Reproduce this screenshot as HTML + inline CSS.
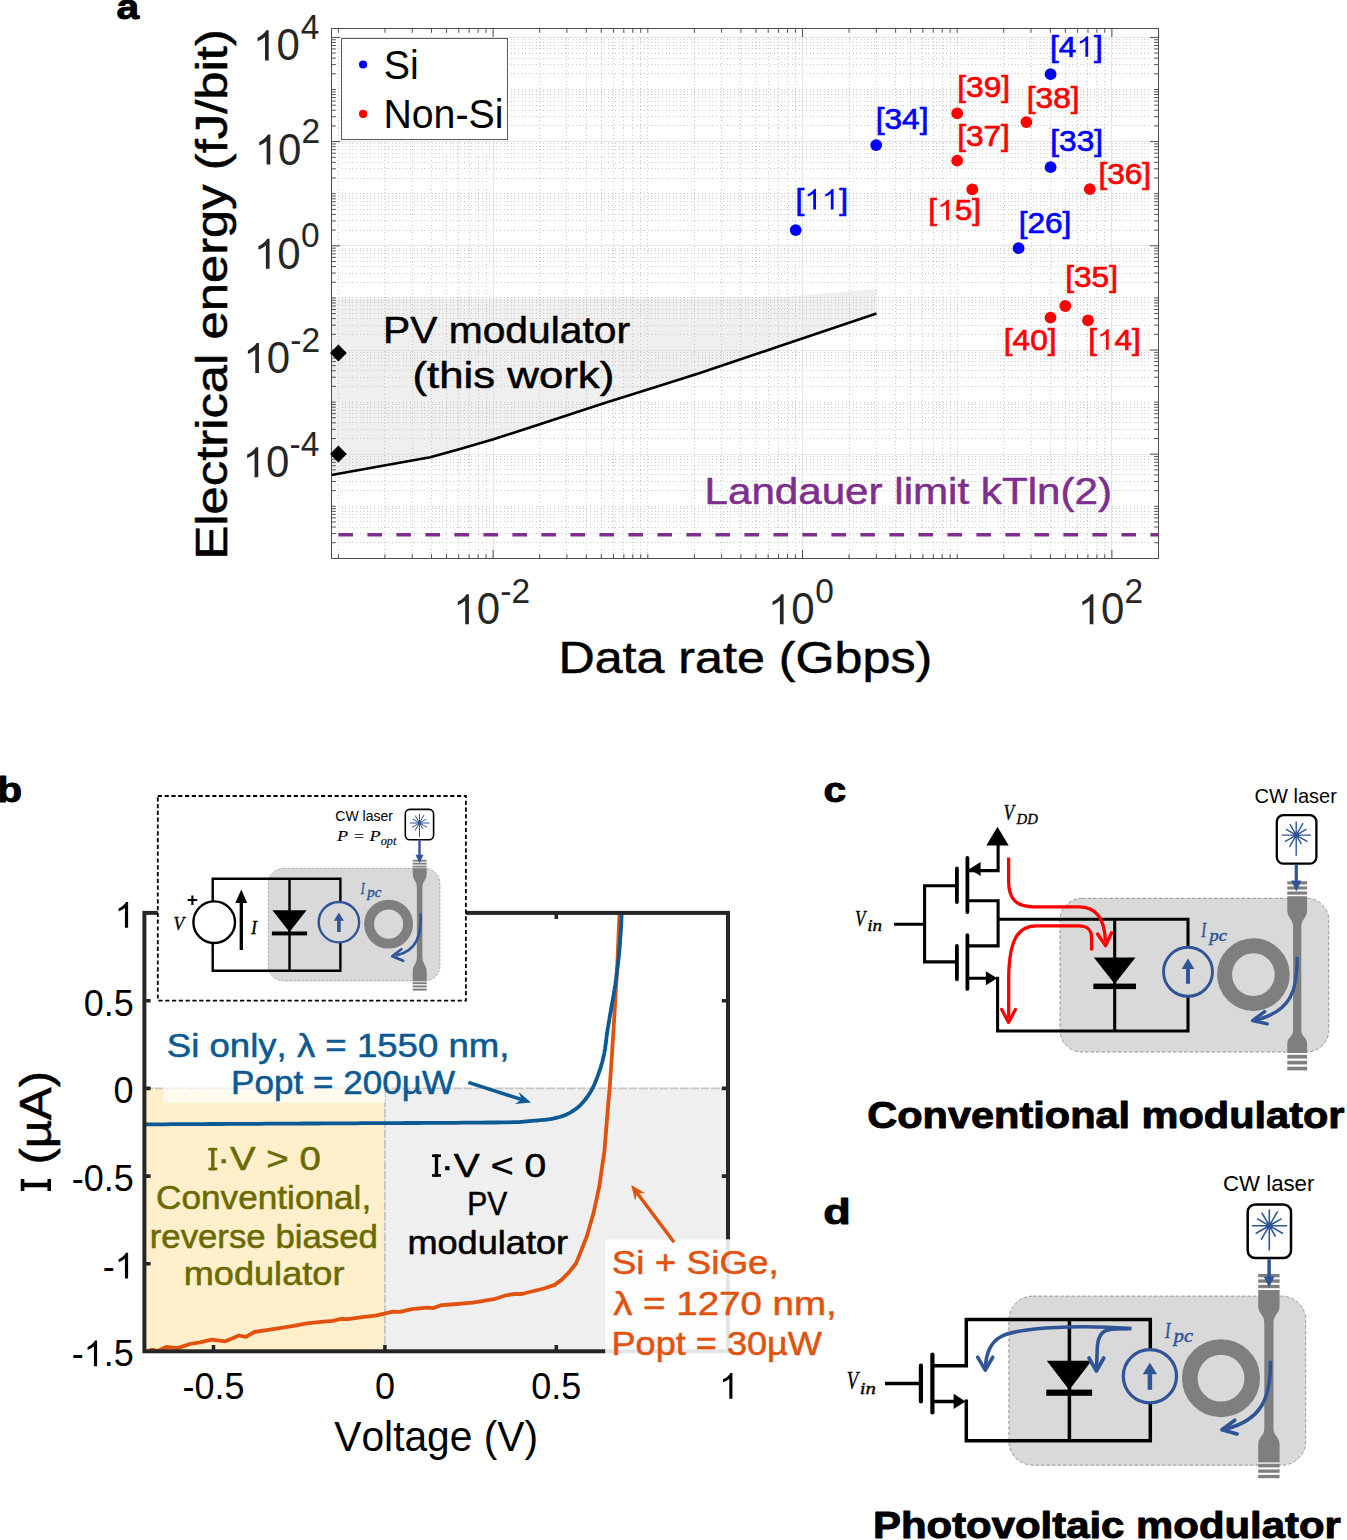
<!DOCTYPE html>
<html><head><meta charset="utf-8"><title>Figure</title>
<style>
html,body{margin:0;padding:0;background:#fff;}
body{width:1347px;height:1540px;overflow:hidden;font-family:"Liberation Sans",sans-serif;}
svg{display:block;}
svg text{font-kerning:none;white-space:pre;}
</style></head><body>
<svg width="1347" height="1540" viewBox="0 0 1347 1540">
<rect x="0" y="0" width="1347" height="1540" fill="#ffffff"/>
<polygon points="331.5,298.0 778.0,297.3 876.5,289.0 876.5,313.6 780.0,346.0 700.0,373.0 659.7,385.8 604.7,403.1 549.8,420.9 493.5,439.3 460.0,449.0 430.3,457.2 380.0,466.3 331.5,475.0" fill="#efefef"/>
<g shape-rendering="crispEdges" opacity="0.9"><line x1="338.40" y1="37.50" x2="338.40" y2="558.50" stroke="#c4c4c4" stroke-width="1" stroke-dasharray="1 2.6"/><line x1="384.97" y1="37.50" x2="384.97" y2="558.50" stroke="#c4c4c4" stroke-width="1" stroke-dasharray="1 2.6"/><line x1="412.21" y1="37.50" x2="412.21" y2="558.50" stroke="#c4c4c4" stroke-width="1" stroke-dasharray="1 2.6"/><line x1="431.54" y1="37.50" x2="431.54" y2="558.50" stroke="#c4c4c4" stroke-width="1" stroke-dasharray="1 2.6"/><line x1="446.53" y1="37.50" x2="446.53" y2="558.50" stroke="#c4c4c4" stroke-width="1" stroke-dasharray="1 2.6"/><line x1="458.78" y1="37.50" x2="458.78" y2="558.50" stroke="#c4c4c4" stroke-width="1" stroke-dasharray="1 2.6"/><line x1="469.14" y1="37.50" x2="469.14" y2="558.50" stroke="#c4c4c4" stroke-width="1" stroke-dasharray="1 2.6"/><line x1="478.11" y1="37.50" x2="478.11" y2="558.50" stroke="#c4c4c4" stroke-width="1" stroke-dasharray="1 2.6"/><line x1="486.02" y1="37.50" x2="486.02" y2="558.50" stroke="#c4c4c4" stroke-width="1" stroke-dasharray="1 2.6"/><line x1="493.10" y1="28.50" x2="493.10" y2="558.50" stroke="#e2e2e2" stroke-width="1"/><line x1="539.67" y1="37.50" x2="539.67" y2="558.50" stroke="#c4c4c4" stroke-width="1" stroke-dasharray="1 2.6"/><line x1="566.91" y1="37.50" x2="566.91" y2="558.50" stroke="#c4c4c4" stroke-width="1" stroke-dasharray="1 2.6"/><line x1="586.24" y1="37.50" x2="586.24" y2="558.50" stroke="#c4c4c4" stroke-width="1" stroke-dasharray="1 2.6"/><line x1="601.23" y1="37.50" x2="601.23" y2="558.50" stroke="#c4c4c4" stroke-width="1" stroke-dasharray="1 2.6"/><line x1="613.48" y1="37.50" x2="613.48" y2="558.50" stroke="#c4c4c4" stroke-width="1" stroke-dasharray="1 2.6"/><line x1="623.84" y1="37.50" x2="623.84" y2="558.50" stroke="#c4c4c4" stroke-width="1" stroke-dasharray="1 2.6"/><line x1="632.81" y1="37.50" x2="632.81" y2="558.50" stroke="#c4c4c4" stroke-width="1" stroke-dasharray="1 2.6"/><line x1="640.72" y1="37.50" x2="640.72" y2="558.50" stroke="#c4c4c4" stroke-width="1" stroke-dasharray="1 2.6"/><line x1="647.80" y1="37.50" x2="647.80" y2="558.50" stroke="#c4c4c4" stroke-width="1" stroke-dasharray="1 2.6"/><line x1="694.37" y1="37.50" x2="694.37" y2="558.50" stroke="#c4c4c4" stroke-width="1" stroke-dasharray="1 2.6"/><line x1="721.61" y1="37.50" x2="721.61" y2="558.50" stroke="#c4c4c4" stroke-width="1" stroke-dasharray="1 2.6"/><line x1="740.94" y1="37.50" x2="740.94" y2="558.50" stroke="#c4c4c4" stroke-width="1" stroke-dasharray="1 2.6"/><line x1="755.93" y1="37.50" x2="755.93" y2="558.50" stroke="#c4c4c4" stroke-width="1" stroke-dasharray="1 2.6"/><line x1="768.18" y1="37.50" x2="768.18" y2="558.50" stroke="#c4c4c4" stroke-width="1" stroke-dasharray="1 2.6"/><line x1="778.54" y1="37.50" x2="778.54" y2="558.50" stroke="#c4c4c4" stroke-width="1" stroke-dasharray="1 2.6"/><line x1="787.51" y1="37.50" x2="787.51" y2="558.50" stroke="#c4c4c4" stroke-width="1" stroke-dasharray="1 2.6"/><line x1="795.42" y1="37.50" x2="795.42" y2="558.50" stroke="#c4c4c4" stroke-width="1" stroke-dasharray="1 2.6"/><line x1="802.50" y1="28.50" x2="802.50" y2="558.50" stroke="#e2e2e2" stroke-width="1"/><line x1="849.07" y1="37.50" x2="849.07" y2="558.50" stroke="#c4c4c4" stroke-width="1" stroke-dasharray="1 2.6"/><line x1="876.31" y1="37.50" x2="876.31" y2="558.50" stroke="#c4c4c4" stroke-width="1" stroke-dasharray="1 2.6"/><line x1="895.64" y1="37.50" x2="895.64" y2="558.50" stroke="#c4c4c4" stroke-width="1" stroke-dasharray="1 2.6"/><line x1="910.63" y1="37.50" x2="910.63" y2="558.50" stroke="#c4c4c4" stroke-width="1" stroke-dasharray="1 2.6"/><line x1="922.88" y1="37.50" x2="922.88" y2="558.50" stroke="#c4c4c4" stroke-width="1" stroke-dasharray="1 2.6"/><line x1="933.24" y1="37.50" x2="933.24" y2="558.50" stroke="#c4c4c4" stroke-width="1" stroke-dasharray="1 2.6"/><line x1="942.21" y1="37.50" x2="942.21" y2="558.50" stroke="#c4c4c4" stroke-width="1" stroke-dasharray="1 2.6"/><line x1="950.12" y1="37.50" x2="950.12" y2="558.50" stroke="#c4c4c4" stroke-width="1" stroke-dasharray="1 2.6"/><line x1="957.20" y1="37.50" x2="957.20" y2="558.50" stroke="#c4c4c4" stroke-width="1" stroke-dasharray="1 2.6"/><line x1="1003.77" y1="37.50" x2="1003.77" y2="558.50" stroke="#c4c4c4" stroke-width="1" stroke-dasharray="1 2.6"/><line x1="1031.01" y1="37.50" x2="1031.01" y2="558.50" stroke="#c4c4c4" stroke-width="1" stroke-dasharray="1 2.6"/><line x1="1050.34" y1="37.50" x2="1050.34" y2="558.50" stroke="#c4c4c4" stroke-width="1" stroke-dasharray="1 2.6"/><line x1="1065.33" y1="37.50" x2="1065.33" y2="558.50" stroke="#c4c4c4" stroke-width="1" stroke-dasharray="1 2.6"/><line x1="1077.58" y1="37.50" x2="1077.58" y2="558.50" stroke="#c4c4c4" stroke-width="1" stroke-dasharray="1 2.6"/><line x1="1087.94" y1="37.50" x2="1087.94" y2="558.50" stroke="#c4c4c4" stroke-width="1" stroke-dasharray="1 2.6"/><line x1="1096.91" y1="37.50" x2="1096.91" y2="558.50" stroke="#c4c4c4" stroke-width="1" stroke-dasharray="1 2.6"/><line x1="1104.82" y1="37.50" x2="1104.82" y2="558.50" stroke="#c4c4c4" stroke-width="1" stroke-dasharray="1 2.6"/><line x1="1111.90" y1="28.50" x2="1111.90" y2="558.50" stroke="#e2e2e2" stroke-width="1"/><line x1="341.50" y1="542.72" x2="1148.50" y2="542.72" stroke="#c4c4c4" stroke-width="1" stroke-dasharray="1 2.6"/><line x1="341.50" y1="533.54" x2="1148.50" y2="533.54" stroke="#c4c4c4" stroke-width="1" stroke-dasharray="1 2.6"/><line x1="341.50" y1="527.03" x2="1148.50" y2="527.03" stroke="#c4c4c4" stroke-width="1" stroke-dasharray="1 2.6"/><line x1="341.50" y1="521.98" x2="1148.50" y2="521.98" stroke="#c4c4c4" stroke-width="1" stroke-dasharray="1 2.6"/><line x1="341.50" y1="517.86" x2="1148.50" y2="517.86" stroke="#c4c4c4" stroke-width="1" stroke-dasharray="1 2.6"/><line x1="341.50" y1="514.37" x2="1148.50" y2="514.37" stroke="#c4c4c4" stroke-width="1" stroke-dasharray="1 2.6"/><line x1="341.50" y1="511.35" x2="1148.50" y2="511.35" stroke="#c4c4c4" stroke-width="1" stroke-dasharray="1 2.6"/><line x1="341.50" y1="508.68" x2="1148.50" y2="508.68" stroke="#c4c4c4" stroke-width="1" stroke-dasharray="1 2.6"/><line x1="341.50" y1="506.30" x2="1148.50" y2="506.30" stroke="#c4c4c4" stroke-width="1" stroke-dasharray="1 2.6"/><line x1="341.50" y1="490.62" x2="1148.50" y2="490.62" stroke="#c4c4c4" stroke-width="1" stroke-dasharray="1 2.6"/><line x1="341.50" y1="481.44" x2="1148.50" y2="481.44" stroke="#c4c4c4" stroke-width="1" stroke-dasharray="1 2.6"/><line x1="341.50" y1="474.93" x2="1148.50" y2="474.93" stroke="#c4c4c4" stroke-width="1" stroke-dasharray="1 2.6"/><line x1="341.50" y1="469.88" x2="1148.50" y2="469.88" stroke="#c4c4c4" stroke-width="1" stroke-dasharray="1 2.6"/><line x1="341.50" y1="465.76" x2="1148.50" y2="465.76" stroke="#c4c4c4" stroke-width="1" stroke-dasharray="1 2.6"/><line x1="341.50" y1="462.27" x2="1148.50" y2="462.27" stroke="#c4c4c4" stroke-width="1" stroke-dasharray="1 2.6"/><line x1="341.50" y1="459.25" x2="1148.50" y2="459.25" stroke="#c4c4c4" stroke-width="1" stroke-dasharray="1 2.6"/><line x1="341.50" y1="456.58" x2="1148.50" y2="456.58" stroke="#c4c4c4" stroke-width="1" stroke-dasharray="1 2.6"/><line x1="331.50" y1="454.20" x2="1158.50" y2="454.20" stroke="#e2e2e2" stroke-width="1"/><line x1="341.50" y1="438.52" x2="1148.50" y2="438.52" stroke="#c4c4c4" stroke-width="1" stroke-dasharray="1 2.6"/><line x1="341.50" y1="429.34" x2="1148.50" y2="429.34" stroke="#c4c4c4" stroke-width="1" stroke-dasharray="1 2.6"/><line x1="341.50" y1="422.83" x2="1148.50" y2="422.83" stroke="#c4c4c4" stroke-width="1" stroke-dasharray="1 2.6"/><line x1="341.50" y1="417.78" x2="1148.50" y2="417.78" stroke="#c4c4c4" stroke-width="1" stroke-dasharray="1 2.6"/><line x1="341.50" y1="413.66" x2="1148.50" y2="413.66" stroke="#c4c4c4" stroke-width="1" stroke-dasharray="1 2.6"/><line x1="341.50" y1="410.17" x2="1148.50" y2="410.17" stroke="#c4c4c4" stroke-width="1" stroke-dasharray="1 2.6"/><line x1="341.50" y1="407.15" x2="1148.50" y2="407.15" stroke="#c4c4c4" stroke-width="1" stroke-dasharray="1 2.6"/><line x1="341.50" y1="404.48" x2="1148.50" y2="404.48" stroke="#c4c4c4" stroke-width="1" stroke-dasharray="1 2.6"/><line x1="341.50" y1="402.10" x2="1148.50" y2="402.10" stroke="#c4c4c4" stroke-width="1" stroke-dasharray="1 2.6"/><line x1="341.50" y1="386.42" x2="1148.50" y2="386.42" stroke="#c4c4c4" stroke-width="1" stroke-dasharray="1 2.6"/><line x1="341.50" y1="377.24" x2="1148.50" y2="377.24" stroke="#c4c4c4" stroke-width="1" stroke-dasharray="1 2.6"/><line x1="341.50" y1="370.73" x2="1148.50" y2="370.73" stroke="#c4c4c4" stroke-width="1" stroke-dasharray="1 2.6"/><line x1="341.50" y1="365.68" x2="1148.50" y2="365.68" stroke="#c4c4c4" stroke-width="1" stroke-dasharray="1 2.6"/><line x1="341.50" y1="361.56" x2="1148.50" y2="361.56" stroke="#c4c4c4" stroke-width="1" stroke-dasharray="1 2.6"/><line x1="341.50" y1="358.07" x2="1148.50" y2="358.07" stroke="#c4c4c4" stroke-width="1" stroke-dasharray="1 2.6"/><line x1="341.50" y1="355.05" x2="1148.50" y2="355.05" stroke="#c4c4c4" stroke-width="1" stroke-dasharray="1 2.6"/><line x1="341.50" y1="352.38" x2="1148.50" y2="352.38" stroke="#c4c4c4" stroke-width="1" stroke-dasharray="1 2.6"/><line x1="331.50" y1="350.00" x2="1158.50" y2="350.00" stroke="#e2e2e2" stroke-width="1"/><line x1="341.50" y1="334.32" x2="1148.50" y2="334.32" stroke="#c4c4c4" stroke-width="1" stroke-dasharray="1 2.6"/><line x1="341.50" y1="325.14" x2="1148.50" y2="325.14" stroke="#c4c4c4" stroke-width="1" stroke-dasharray="1 2.6"/><line x1="341.50" y1="318.63" x2="1148.50" y2="318.63" stroke="#c4c4c4" stroke-width="1" stroke-dasharray="1 2.6"/><line x1="341.50" y1="313.58" x2="1148.50" y2="313.58" stroke="#c4c4c4" stroke-width="1" stroke-dasharray="1 2.6"/><line x1="341.50" y1="309.46" x2="1148.50" y2="309.46" stroke="#c4c4c4" stroke-width="1" stroke-dasharray="1 2.6"/><line x1="341.50" y1="305.97" x2="1148.50" y2="305.97" stroke="#c4c4c4" stroke-width="1" stroke-dasharray="1 2.6"/><line x1="341.50" y1="302.95" x2="1148.50" y2="302.95" stroke="#c4c4c4" stroke-width="1" stroke-dasharray="1 2.6"/><line x1="341.50" y1="300.28" x2="1148.50" y2="300.28" stroke="#c4c4c4" stroke-width="1" stroke-dasharray="1 2.6"/><line x1="341.50" y1="297.90" x2="1148.50" y2="297.90" stroke="#c4c4c4" stroke-width="1" stroke-dasharray="1 2.6"/><line x1="341.50" y1="282.22" x2="1148.50" y2="282.22" stroke="#c4c4c4" stroke-width="1" stroke-dasharray="1 2.6"/><line x1="341.50" y1="273.04" x2="1148.50" y2="273.04" stroke="#c4c4c4" stroke-width="1" stroke-dasharray="1 2.6"/><line x1="341.50" y1="266.53" x2="1148.50" y2="266.53" stroke="#c4c4c4" stroke-width="1" stroke-dasharray="1 2.6"/><line x1="341.50" y1="261.48" x2="1148.50" y2="261.48" stroke="#c4c4c4" stroke-width="1" stroke-dasharray="1 2.6"/><line x1="341.50" y1="257.36" x2="1148.50" y2="257.36" stroke="#c4c4c4" stroke-width="1" stroke-dasharray="1 2.6"/><line x1="341.50" y1="253.87" x2="1148.50" y2="253.87" stroke="#c4c4c4" stroke-width="1" stroke-dasharray="1 2.6"/><line x1="341.50" y1="250.85" x2="1148.50" y2="250.85" stroke="#c4c4c4" stroke-width="1" stroke-dasharray="1 2.6"/><line x1="341.50" y1="248.18" x2="1148.50" y2="248.18" stroke="#c4c4c4" stroke-width="1" stroke-dasharray="1 2.6"/><line x1="331.50" y1="245.80" x2="1158.50" y2="245.80" stroke="#e2e2e2" stroke-width="1"/><line x1="341.50" y1="230.12" x2="1148.50" y2="230.12" stroke="#c4c4c4" stroke-width="1" stroke-dasharray="1 2.6"/><line x1="341.50" y1="220.94" x2="1148.50" y2="220.94" stroke="#c4c4c4" stroke-width="1" stroke-dasharray="1 2.6"/><line x1="341.50" y1="214.43" x2="1148.50" y2="214.43" stroke="#c4c4c4" stroke-width="1" stroke-dasharray="1 2.6"/><line x1="341.50" y1="209.38" x2="1148.50" y2="209.38" stroke="#c4c4c4" stroke-width="1" stroke-dasharray="1 2.6"/><line x1="341.50" y1="205.26" x2="1148.50" y2="205.26" stroke="#c4c4c4" stroke-width="1" stroke-dasharray="1 2.6"/><line x1="341.50" y1="201.77" x2="1148.50" y2="201.77" stroke="#c4c4c4" stroke-width="1" stroke-dasharray="1 2.6"/><line x1="341.50" y1="198.75" x2="1148.50" y2="198.75" stroke="#c4c4c4" stroke-width="1" stroke-dasharray="1 2.6"/><line x1="341.50" y1="196.08" x2="1148.50" y2="196.08" stroke="#c4c4c4" stroke-width="1" stroke-dasharray="1 2.6"/><line x1="341.50" y1="193.70" x2="1148.50" y2="193.70" stroke="#c4c4c4" stroke-width="1" stroke-dasharray="1 2.6"/><line x1="341.50" y1="178.02" x2="1148.50" y2="178.02" stroke="#c4c4c4" stroke-width="1" stroke-dasharray="1 2.6"/><line x1="341.50" y1="168.84" x2="1148.50" y2="168.84" stroke="#c4c4c4" stroke-width="1" stroke-dasharray="1 2.6"/><line x1="341.50" y1="162.33" x2="1148.50" y2="162.33" stroke="#c4c4c4" stroke-width="1" stroke-dasharray="1 2.6"/><line x1="341.50" y1="157.28" x2="1148.50" y2="157.28" stroke="#c4c4c4" stroke-width="1" stroke-dasharray="1 2.6"/><line x1="341.50" y1="153.16" x2="1148.50" y2="153.16" stroke="#c4c4c4" stroke-width="1" stroke-dasharray="1 2.6"/><line x1="341.50" y1="149.67" x2="1148.50" y2="149.67" stroke="#c4c4c4" stroke-width="1" stroke-dasharray="1 2.6"/><line x1="341.50" y1="146.65" x2="1148.50" y2="146.65" stroke="#c4c4c4" stroke-width="1" stroke-dasharray="1 2.6"/><line x1="341.50" y1="143.98" x2="1148.50" y2="143.98" stroke="#c4c4c4" stroke-width="1" stroke-dasharray="1 2.6"/><line x1="331.50" y1="141.60" x2="1158.50" y2="141.60" stroke="#e2e2e2" stroke-width="1"/><line x1="341.50" y1="125.92" x2="1148.50" y2="125.92" stroke="#c4c4c4" stroke-width="1" stroke-dasharray="1 2.6"/><line x1="341.50" y1="116.74" x2="1148.50" y2="116.74" stroke="#c4c4c4" stroke-width="1" stroke-dasharray="1 2.6"/><line x1="341.50" y1="110.23" x2="1148.50" y2="110.23" stroke="#c4c4c4" stroke-width="1" stroke-dasharray="1 2.6"/><line x1="341.50" y1="105.18" x2="1148.50" y2="105.18" stroke="#c4c4c4" stroke-width="1" stroke-dasharray="1 2.6"/><line x1="341.50" y1="101.06" x2="1148.50" y2="101.06" stroke="#c4c4c4" stroke-width="1" stroke-dasharray="1 2.6"/><line x1="341.50" y1="97.57" x2="1148.50" y2="97.57" stroke="#c4c4c4" stroke-width="1" stroke-dasharray="1 2.6"/><line x1="341.50" y1="94.55" x2="1148.50" y2="94.55" stroke="#c4c4c4" stroke-width="1" stroke-dasharray="1 2.6"/><line x1="341.50" y1="91.88" x2="1148.50" y2="91.88" stroke="#c4c4c4" stroke-width="1" stroke-dasharray="1 2.6"/><line x1="341.50" y1="89.50" x2="1148.50" y2="89.50" stroke="#c4c4c4" stroke-width="1" stroke-dasharray="1 2.6"/><line x1="341.50" y1="73.82" x2="1148.50" y2="73.82" stroke="#c4c4c4" stroke-width="1" stroke-dasharray="1 2.6"/><line x1="341.50" y1="64.64" x2="1148.50" y2="64.64" stroke="#c4c4c4" stroke-width="1" stroke-dasharray="1 2.6"/><line x1="341.50" y1="58.13" x2="1148.50" y2="58.13" stroke="#c4c4c4" stroke-width="1" stroke-dasharray="1 2.6"/><line x1="341.50" y1="53.08" x2="1148.50" y2="53.08" stroke="#c4c4c4" stroke-width="1" stroke-dasharray="1 2.6"/><line x1="341.50" y1="48.96" x2="1148.50" y2="48.96" stroke="#c4c4c4" stroke-width="1" stroke-dasharray="1 2.6"/><line x1="341.50" y1="45.47" x2="1148.50" y2="45.47" stroke="#c4c4c4" stroke-width="1" stroke-dasharray="1 2.6"/><line x1="341.50" y1="42.45" x2="1148.50" y2="42.45" stroke="#c4c4c4" stroke-width="1" stroke-dasharray="1 2.6"/><line x1="341.50" y1="39.78" x2="1148.50" y2="39.78" stroke="#c4c4c4" stroke-width="1" stroke-dasharray="1 2.6"/><line x1="331.50" y1="37.40" x2="1158.50" y2="37.40" stroke="#e2e2e2" stroke-width="1"/></g>
<path d="M338.40 558.50v-4.3 M338.40 28.50v4.3 M384.97 558.50v-4.3 M384.97 28.50v4.3 M412.21 558.50v-4.3 M412.21 28.50v4.3 M431.54 558.50v-4.3 M431.54 28.50v4.3 M446.53 558.50v-4.3 M446.53 28.50v4.3 M458.78 558.50v-4.3 M458.78 28.50v4.3 M469.14 558.50v-4.3 M469.14 28.50v4.3 M478.11 558.50v-4.3 M478.11 28.50v4.3 M486.02 558.50v-4.3 M486.02 28.50v4.3 M493.10 558.50v-8.5 M493.10 28.50v8.5 M539.67 558.50v-4.3 M539.67 28.50v4.3 M566.91 558.50v-4.3 M566.91 28.50v4.3 M586.24 558.50v-4.3 M586.24 28.50v4.3 M601.23 558.50v-4.3 M601.23 28.50v4.3 M613.48 558.50v-4.3 M613.48 28.50v4.3 M623.84 558.50v-4.3 M623.84 28.50v4.3 M632.81 558.50v-4.3 M632.81 28.50v4.3 M640.72 558.50v-4.3 M640.72 28.50v4.3 M647.80 558.50v-4.3 M647.80 28.50v4.3 M694.37 558.50v-4.3 M694.37 28.50v4.3 M721.61 558.50v-4.3 M721.61 28.50v4.3 M740.94 558.50v-4.3 M740.94 28.50v4.3 M755.93 558.50v-4.3 M755.93 28.50v4.3 M768.18 558.50v-4.3 M768.18 28.50v4.3 M778.54 558.50v-4.3 M778.54 28.50v4.3 M787.51 558.50v-4.3 M787.51 28.50v4.3 M795.42 558.50v-4.3 M795.42 28.50v4.3 M802.50 558.50v-8.5 M802.50 28.50v8.5 M849.07 558.50v-4.3 M849.07 28.50v4.3 M876.31 558.50v-4.3 M876.31 28.50v4.3 M895.64 558.50v-4.3 M895.64 28.50v4.3 M910.63 558.50v-4.3 M910.63 28.50v4.3 M922.88 558.50v-4.3 M922.88 28.50v4.3 M933.24 558.50v-4.3 M933.24 28.50v4.3 M942.21 558.50v-4.3 M942.21 28.50v4.3 M950.12 558.50v-4.3 M950.12 28.50v4.3 M957.20 558.50v-4.3 M957.20 28.50v4.3 M1003.77 558.50v-4.3 M1003.77 28.50v4.3 M1031.01 558.50v-4.3 M1031.01 28.50v4.3 M1050.34 558.50v-4.3 M1050.34 28.50v4.3 M1065.33 558.50v-4.3 M1065.33 28.50v4.3 M1077.58 558.50v-4.3 M1077.58 28.50v4.3 M1087.94 558.50v-4.3 M1087.94 28.50v4.3 M1096.91 558.50v-4.3 M1096.91 28.50v4.3 M1104.82 558.50v-4.3 M1104.82 28.50v4.3 M1111.90 558.50v-8.5 M1111.90 28.50v8.5 M331.50 542.72h4.3 M1158.50 542.72h-4.3 M331.50 533.54h4.3 M1158.50 533.54h-4.3 M331.50 527.03h4.3 M1158.50 527.03h-4.3 M331.50 521.98h4.3 M1158.50 521.98h-4.3 M331.50 517.86h4.3 M1158.50 517.86h-4.3 M331.50 514.37h4.3 M1158.50 514.37h-4.3 M331.50 511.35h4.3 M1158.50 511.35h-4.3 M331.50 508.68h4.3 M1158.50 508.68h-4.3 M331.50 506.30h4.3 M1158.50 506.30h-4.3 M331.50 490.62h4.3 M1158.50 490.62h-4.3 M331.50 481.44h4.3 M1158.50 481.44h-4.3 M331.50 474.93h4.3 M1158.50 474.93h-4.3 M331.50 469.88h4.3 M1158.50 469.88h-4.3 M331.50 465.76h4.3 M1158.50 465.76h-4.3 M331.50 462.27h4.3 M1158.50 462.27h-4.3 M331.50 459.25h4.3 M1158.50 459.25h-4.3 M331.50 456.58h4.3 M1158.50 456.58h-4.3 M331.50 454.20h8.5 M1158.50 454.20h-8.5 M331.50 438.52h4.3 M1158.50 438.52h-4.3 M331.50 429.34h4.3 M1158.50 429.34h-4.3 M331.50 422.83h4.3 M1158.50 422.83h-4.3 M331.50 417.78h4.3 M1158.50 417.78h-4.3 M331.50 413.66h4.3 M1158.50 413.66h-4.3 M331.50 410.17h4.3 M1158.50 410.17h-4.3 M331.50 407.15h4.3 M1158.50 407.15h-4.3 M331.50 404.48h4.3 M1158.50 404.48h-4.3 M331.50 402.10h4.3 M1158.50 402.10h-4.3 M331.50 386.42h4.3 M1158.50 386.42h-4.3 M331.50 377.24h4.3 M1158.50 377.24h-4.3 M331.50 370.73h4.3 M1158.50 370.73h-4.3 M331.50 365.68h4.3 M1158.50 365.68h-4.3 M331.50 361.56h4.3 M1158.50 361.56h-4.3 M331.50 358.07h4.3 M1158.50 358.07h-4.3 M331.50 355.05h4.3 M1158.50 355.05h-4.3 M331.50 352.38h4.3 M1158.50 352.38h-4.3 M331.50 350.00h8.5 M1158.50 350.00h-8.5 M331.50 334.32h4.3 M1158.50 334.32h-4.3 M331.50 325.14h4.3 M1158.50 325.14h-4.3 M331.50 318.63h4.3 M1158.50 318.63h-4.3 M331.50 313.58h4.3 M1158.50 313.58h-4.3 M331.50 309.46h4.3 M1158.50 309.46h-4.3 M331.50 305.97h4.3 M1158.50 305.97h-4.3 M331.50 302.95h4.3 M1158.50 302.95h-4.3 M331.50 300.28h4.3 M1158.50 300.28h-4.3 M331.50 297.90h4.3 M1158.50 297.90h-4.3 M331.50 282.22h4.3 M1158.50 282.22h-4.3 M331.50 273.04h4.3 M1158.50 273.04h-4.3 M331.50 266.53h4.3 M1158.50 266.53h-4.3 M331.50 261.48h4.3 M1158.50 261.48h-4.3 M331.50 257.36h4.3 M1158.50 257.36h-4.3 M331.50 253.87h4.3 M1158.50 253.87h-4.3 M331.50 250.85h4.3 M1158.50 250.85h-4.3 M331.50 248.18h4.3 M1158.50 248.18h-4.3 M331.50 245.80h8.5 M1158.50 245.80h-8.5 M331.50 230.12h4.3 M1158.50 230.12h-4.3 M331.50 220.94h4.3 M1158.50 220.94h-4.3 M331.50 214.43h4.3 M1158.50 214.43h-4.3 M331.50 209.38h4.3 M1158.50 209.38h-4.3 M331.50 205.26h4.3 M1158.50 205.26h-4.3 M331.50 201.77h4.3 M1158.50 201.77h-4.3 M331.50 198.75h4.3 M1158.50 198.75h-4.3 M331.50 196.08h4.3 M1158.50 196.08h-4.3 M331.50 193.70h4.3 M1158.50 193.70h-4.3 M331.50 178.02h4.3 M1158.50 178.02h-4.3 M331.50 168.84h4.3 M1158.50 168.84h-4.3 M331.50 162.33h4.3 M1158.50 162.33h-4.3 M331.50 157.28h4.3 M1158.50 157.28h-4.3 M331.50 153.16h4.3 M1158.50 153.16h-4.3 M331.50 149.67h4.3 M1158.50 149.67h-4.3 M331.50 146.65h4.3 M1158.50 146.65h-4.3 M331.50 143.98h4.3 M1158.50 143.98h-4.3 M331.50 141.60h8.5 M1158.50 141.60h-8.5 M331.50 125.92h4.3 M1158.50 125.92h-4.3 M331.50 116.74h4.3 M1158.50 116.74h-4.3 M331.50 110.23h4.3 M1158.50 110.23h-4.3 M331.50 105.18h4.3 M1158.50 105.18h-4.3 M331.50 101.06h4.3 M1158.50 101.06h-4.3 M331.50 97.57h4.3 M1158.50 97.57h-4.3 M331.50 94.55h4.3 M1158.50 94.55h-4.3 M331.50 91.88h4.3 M1158.50 91.88h-4.3 M331.50 89.50h4.3 M1158.50 89.50h-4.3 M331.50 73.82h4.3 M1158.50 73.82h-4.3 M331.50 64.64h4.3 M1158.50 64.64h-4.3 M331.50 58.13h4.3 M1158.50 58.13h-4.3 M331.50 53.08h4.3 M1158.50 53.08h-4.3 M331.50 48.96h4.3 M1158.50 48.96h-4.3 M331.50 45.47h4.3 M1158.50 45.47h-4.3 M331.50 42.45h4.3 M1158.50 42.45h-4.3 M331.50 39.78h4.3 M1158.50 39.78h-4.3 M331.50 37.40h8.5 M1158.50 37.40h-8.5" fill="none" stroke="#4d4d4d" stroke-width="1.00" />
<rect x="331.50" y="28.50" width="827.00" height="530.00" fill="none" stroke="#4d4d4d" stroke-width="1.00" rx="0.00" />
<line x1="338.40" y1="534.70" x2="1158.50" y2="534.70" stroke="#7e2f8e" stroke-width="3.60" stroke-dasharray="14.6 14.4"/>
<text transform="translate(704.54,503.60) scale(1.1707,1.0500)" font-size="36.00" fill="#7e2f8e" style="font-family:'Liberation Sans',sans-serif" stroke="#7e2f8e" stroke-width="0.50" stroke-linejoin="round">Landauer limit kTln(2)</text>
<path d="M331.5 475.0 L380.0 466.3 L430.3 457.2 L460.0 449.0 L493.5 439.3 L549.8 420.9 L604.7 403.1 L659.7 385.8 L700.0 373.0 L780.0 346.0 L876.5 313.6" fill="none" stroke="#000" stroke-width="2.60" stroke-linejoin="round"/>
<polygon points="330.0,353.0 338.4,344.6 346.8,353.0 338.4,361.4" fill="#000"/>
<polygon points="330.0,454.0 338.4,445.6 346.8,454.0 338.4,462.4" fill="#000"/>
<text transform="translate(382.95,342.60) scale(1.1330,1.0500)" font-size="36.00" fill="#000" style="font-family:'Liberation Sans',sans-serif" stroke="#000" stroke-width="0.50" stroke-linejoin="round">PV modulator</text>
<text transform="translate(412.49,387.70) scale(1.2158,1.0500)" font-size="36.00" fill="#000" style="font-family:'Liberation Sans',sans-serif" stroke="#000" stroke-width="0.50" stroke-linejoin="round">(this work)</text>
<rect x="341.50" y="38.50" width="166.00" height="101.00" fill="#fff" stroke="#5a5a5a" stroke-width="1.00" rx="0.00" />
<circle cx="363.10" cy="64.50" r="4.10" fill="#0000ff" stroke="none" stroke-width="1.00"/>
<circle cx="363.10" cy="113.90" r="4.10" fill="#ff0000" stroke="none" stroke-width="1.00"/>
<text transform="translate(383.81,78.90) scale(1.0237,1.0400)" font-size="38.50" fill="#000" style="font-family:'Liberation Sans',sans-serif" >Si</text>
<text transform="translate(383.38,128.10) scale(1.0203,1.0400)" font-size="38.50" fill="#000" style="font-family:'Liberation Sans',sans-serif" >Non-Si</text>
<circle cx="1050.60" cy="74.20" r="5.90" fill="#0000ff" stroke="none" stroke-width="1.00"/>
<circle cx="957.20" cy="113.40" r="5.90" fill="#ff0000" stroke="none" stroke-width="1.00"/>
<circle cx="1026.40" cy="122.10" r="5.90" fill="#ff0000" stroke="none" stroke-width="1.00"/>
<circle cx="876.20" cy="145.10" r="5.90" fill="#0000ff" stroke="none" stroke-width="1.00"/>
<circle cx="957.20" cy="160.70" r="5.90" fill="#ff0000" stroke="none" stroke-width="1.00"/>
<circle cx="1050.60" cy="167.20" r="5.90" fill="#0000ff" stroke="none" stroke-width="1.00"/>
<circle cx="1089.80" cy="189.10" r="5.90" fill="#ff0000" stroke="none" stroke-width="1.00"/>
<circle cx="972.30" cy="189.40" r="5.90" fill="#ff0000" stroke="none" stroke-width="1.00"/>
<circle cx="795.70" cy="230.10" r="5.90" fill="#0000ff" stroke="none" stroke-width="1.00"/>
<circle cx="1018.60" cy="248.20" r="5.90" fill="#0000ff" stroke="none" stroke-width="1.00"/>
<circle cx="1065.30" cy="306.00" r="5.90" fill="#ff0000" stroke="none" stroke-width="1.00"/>
<circle cx="1050.50" cy="317.60" r="5.90" fill="#ff0000" stroke="none" stroke-width="1.00"/>
<circle cx="1088.00" cy="320.30" r="5.90" fill="#ff0000" stroke="none" stroke-width="1.00"/>
<g transform="translate(1050.05,56.80) scale(1.0533,0.9950)" fill="#0000ff" stroke="#0000ff" stroke-width="0.7">
<text x="0.00" y="0" font-size="30.00" style="font-family:'Liberation Sans',sans-serif">[4</text>
<path transform="translate(25.02,0) scale(0.01465,-0.01407)" d="M763 0H583V1140C505 1068 380 992 223 930V1102C395 1180 560 1310 646 1467H763Z"/>
<text x="41.70" y="0" font-size="30.00" style="font-family:'Liberation Sans',sans-serif">]</text>
</g>
<text transform="translate(957.35,97.30) scale(1.0533,0.9950)" font-size="30.00" fill="#ff0000" style="font-family:'Liberation Sans',sans-serif" stroke="#ff0000" stroke-width="0.7">[39]</text>
<text transform="translate(1026.85,107.50) scale(1.0533,0.9950)" font-size="30.00" fill="#ff0000" style="font-family:'Liberation Sans',sans-serif" stroke="#ff0000" stroke-width="0.7">[38]</text>
<text transform="translate(875.75,129.00) scale(1.0533,0.9950)" font-size="30.00" fill="#0000ff" style="font-family:'Liberation Sans',sans-serif" stroke="#0000ff" stroke-width="0.7">[34]</text>
<text transform="translate(957.15,146.10) scale(1.0533,0.9950)" font-size="30.00" fill="#ff0000" style="font-family:'Liberation Sans',sans-serif" stroke="#ff0000" stroke-width="0.7">[37]</text>
<text transform="translate(1050.35,150.80) scale(1.0533,0.9950)" font-size="30.00" fill="#0000ff" style="font-family:'Liberation Sans',sans-serif" stroke="#0000ff" stroke-width="0.7">[33]</text>
<text transform="translate(1098.45,183.60) scale(1.0533,0.9950)" font-size="30.00" fill="#ff0000" style="font-family:'Liberation Sans',sans-serif" stroke="#ff0000" stroke-width="0.7">[36]</text>
<g transform="translate(928.35,220.30) scale(1.0533,0.9950)" fill="#ff0000" stroke="#ff0000" stroke-width="0.7">
<text x="0.00" y="0" font-size="30.00" style="font-family:'Liberation Sans',sans-serif">[</text>
<path transform="translate(8.33,0) scale(0.01465,-0.01407)" d="M763 0H583V1140C505 1068 380 992 223 930V1102C395 1180 560 1310 646 1467H763Z"/>
<text x="25.02" y="0" font-size="30.00" style="font-family:'Liberation Sans',sans-serif">5]</text>
</g>
<g transform="translate(795.45,209.60) scale(1.0533,0.9950)" fill="#0000ff" stroke="#0000ff" stroke-width="0.7">
<text x="0.00" y="0" font-size="30.00" style="font-family:'Liberation Sans',sans-serif">[</text>
<path transform="translate(8.33,0) scale(0.01465,-0.01407)" d="M763 0H583V1140C505 1068 380 992 223 930V1102C395 1180 560 1310 646 1467H763Z"/>
<path transform="translate(25.02,0) scale(0.01465,-0.01407)" d="M763 0H583V1140C505 1068 380 992 223 930V1102C395 1180 560 1310 646 1467H763Z"/>
<text x="41.70" y="0" font-size="30.00" style="font-family:'Liberation Sans',sans-serif">]</text>
</g>
<text transform="translate(1018.65,233.40) scale(1.0533,0.9950)" font-size="30.00" fill="#0000ff" style="font-family:'Liberation Sans',sans-serif" stroke="#0000ff" stroke-width="0.7">[26]</text>
<text transform="translate(1065.25,286.90) scale(1.0533,0.9950)" font-size="30.00" fill="#ff0000" style="font-family:'Liberation Sans',sans-serif" stroke="#ff0000" stroke-width="0.7">[35]</text>
<text transform="translate(1003.85,349.70) scale(1.0533,0.9950)" font-size="30.00" fill="#ff0000" style="font-family:'Liberation Sans',sans-serif" stroke="#ff0000" stroke-width="0.7">[40]</text>
<g transform="translate(1088.15,349.70) scale(1.0533,0.9950)" fill="#ff0000" stroke="#ff0000" stroke-width="0.7">
<text x="0.00" y="0" font-size="30.00" style="font-family:'Liberation Sans',sans-serif">[</text>
<path transform="translate(8.33,0) scale(0.01465,-0.01407)" d="M763 0H583V1140C505 1068 380 992 223 930V1102C395 1180 560 1310 646 1467H763Z"/>
<text x="25.02" y="0" font-size="30.00" style="font-family:'Liberation Sans',sans-serif">4]</text>
</g>
<text transform="translate(300.75,39.00) scale(1.0000,1.0400)" font-size="33.50" fill="#262626" style="font-family:'Liberation Sans',sans-serif" >4</text>
<g transform="translate(253.04,60.40) scale(1.0000,1.0400)" fill="#262626" >
<path transform="translate(0.00,0) scale(0.02051,-0.01970)" d="M763 0H583V1140C505 1068 380 992 223 930V1102C395 1180 560 1310 646 1467H763Z"/>
<text x="23.36" y="0" font-size="42.00" style="font-family:'Liberation Sans',sans-serif">0</text>
</g>
<text transform="translate(301.45,143.20) scale(1.0000,1.0400)" font-size="33.50" fill="#262626" style="font-family:'Liberation Sans',sans-serif" >2</text>
<g transform="translate(254.66,164.60) scale(1.0000,1.0400)" fill="#262626" >
<path transform="translate(0.00,0) scale(0.02051,-0.01970)" d="M763 0H583V1140C505 1068 380 992 223 930V1102C395 1180 560 1310 646 1467H763Z"/>
<text x="23.36" y="0" font-size="42.00" style="font-family:'Liberation Sans',sans-serif">0</text>
</g>
<text transform="translate(301.08,247.40) scale(1.0000,1.0400)" font-size="33.50" fill="#262626" style="font-family:'Liberation Sans',sans-serif" >0</text>
<g transform="translate(253.91,268.80) scale(1.0000,1.0400)" fill="#262626" >
<path transform="translate(0.00,0) scale(0.02051,-0.01970)" d="M763 0H583V1140C505 1068 380 992 223 930V1102C395 1180 560 1310 646 1467H763Z"/>
<text x="23.36" y="0" font-size="42.00" style="font-family:'Liberation Sans',sans-serif">0</text>
</g>
<text transform="translate(290.30,351.60) scale(1.0000,1.0400)" font-size="33.50" fill="#262626" style="font-family:'Liberation Sans',sans-serif" >-2</text>
<g transform="translate(243.31,373.00) scale(1.0000,1.0400)" fill="#262626" >
<path transform="translate(0.00,0) scale(0.02051,-0.01970)" d="M763 0H583V1140C505 1068 380 992 223 930V1102C395 1180 560 1310 646 1467H763Z"/>
<text x="23.36" y="0" font-size="42.00" style="font-family:'Liberation Sans',sans-serif">0</text>
</g>
<text transform="translate(289.59,455.80) scale(1.0000,1.0400)" font-size="33.50" fill="#262626" style="font-family:'Liberation Sans',sans-serif" >-4</text>
<g transform="translate(242.61,477.20) scale(1.0000,1.0400)" fill="#262626" >
<path transform="translate(0.00,0) scale(0.02051,-0.01970)" d="M763 0H583V1140C505 1068 380 992 223 930V1102C395 1180 560 1310 646 1467H763Z"/>
<text x="23.36" y="0" font-size="42.00" style="font-family:'Liberation Sans',sans-serif">0</text>
</g>
<g transform="translate(453.27,624.20) scale(1.0000,1.0400)" fill="#262626" >
<path transform="translate(0.00,0) scale(0.02051,-0.01970)" d="M763 0H583V1140C505 1068 380 992 223 930V1102C395 1180 560 1310 646 1467H763Z"/>
<text x="23.36" y="0" font-size="42.00" style="font-family:'Liberation Sans',sans-serif">0</text>
</g>
<text transform="translate(500.26,602.80) scale(1.0000,1.0400)" font-size="33.50" fill="#262626" style="font-family:'Liberation Sans',sans-serif" >-2</text>
<g transform="translate(767.97,624.20) scale(1.0000,1.0400)" fill="#262626" >
<path transform="translate(0.00,0) scale(0.02051,-0.01970)" d="M763 0H583V1140C505 1068 380 992 223 930V1102C395 1180 560 1310 646 1467H763Z"/>
<text x="23.36" y="0" font-size="42.00" style="font-family:'Liberation Sans',sans-serif">0</text>
</g>
<text transform="translate(815.14,602.80) scale(1.0000,1.0400)" font-size="33.50" fill="#262626" style="font-family:'Liberation Sans',sans-serif" >0</text>
<g transform="translate(1077.74,624.20) scale(1.0000,1.0400)" fill="#262626" >
<path transform="translate(0.00,0) scale(0.02051,-0.01970)" d="M763 0H583V1140C505 1068 380 992 223 930V1102C395 1180 560 1310 646 1467H763Z"/>
<text x="23.36" y="0" font-size="42.00" style="font-family:'Liberation Sans',sans-serif">0</text>
</g>
<text transform="translate(1124.54,602.80) scale(1.0000,1.0400)" font-size="33.50" fill="#262626" style="font-family:'Liberation Sans',sans-serif" >2</text>
<text transform="translate(558.38,673.30) scale(1.1677,1.0500)" font-size="43.00" fill="#000" style="font-family:'Liberation Sans',sans-serif" stroke="#000" stroke-width="0.50" stroke-linejoin="round">Data rate (Gbps)</text>
<g transform="translate(227,0) rotate(-90)">
<text transform="translate(-559.57,0.00) scale(1.1809,1.0500)" font-size="43.00" fill="#000" style="font-family:'Liberation Sans',sans-serif" stroke="#000" stroke-width="0.50" stroke-linejoin="round">Electrical energy (fJ/bit)</text>
</g>
<text transform="translate(116.51,19.00) scale(1.1970,1.0500)" font-size="34.00" fill="#000" style="font-family:'Liberation Sans',sans-serif;font-weight:bold" stroke="#000" stroke-width="0.90" stroke-linejoin="round">a</text>
<rect x="144.40" y="1088.40" width="240.50" height="262.90" fill="#ffefcb" stroke="none" stroke-width="1.00" rx="0.00" />
<rect x="384.90" y="1088.40" width="343.10" height="262.90" fill="#efefef" stroke="none" stroke-width="1.00" rx="0.00" />
<line x1="144.40" y1="1088.40" x2="728.00" y2="1088.40" stroke="#c6c6c6" stroke-width="1.80" stroke-dasharray="8.8 1.5"/>
<line x1="384.90" y1="1088.40" x2="384.90" y2="1351.30" stroke="#c6c6c6" stroke-width="1.80" stroke-dasharray="8.8 1.5"/>
<rect x="163.40" y="1030.00" width="221.60" height="73.00" fill="#ffffff" stroke="none" stroke-width="1.00" rx="0.00" fill-opacity="0.68"/>
<path d="M146.9 1351.5 L152.0 1349.6 L158.0 1351.0 L166.0 1347.0 L177.6 1348.1 L190.0 1344.0 L200.0 1342.3 L211.7 1339.6 L225.4 1341.3 L239.1 1335.5 L245.9 1336.8 L254.4 1332.0 L270.0 1329.6 L293.7 1325.9 L307.0 1323.4 L321.0 1321.8 L333.0 1320.9 L341.0 1318.8 L348.4 1319.1 L362.0 1317.2 L375.7 1315.7 L392.8 1311.6 L400.0 1311.9 L412.1 1309.1 L426.9 1307.6 L433.5 1308.1 L441.0 1305.2 L451.3 1304.5 L472.7 1302.7 L494.0 1299.2 L506.0 1295.3 L515.4 1293.8 L522.0 1294.0 L529.7 1292.0 L543.9 1288.5 L554.6 1284.9 L561.8 1279.6 L568.9 1272.4 L576.0 1263.5 L579.6 1254.6 L586.7 1236.8 L593.8 1211.9 L599.2 1186.9 L604.4 1151.3 L607.9 1108.0 L609.6 1088.5 L611.9 1055.8 L614.3 1016.8 L617.4 962.3 L619.5 913.0" fill="none" stroke="#e2520f" stroke-width="3.80" stroke-linejoin="round"/>
<path d="M145.9 1124.4 L152.2 1124.3 L158.6 1124.3 L164.9 1124.3 L171.3 1124.2 L177.6 1124.2 L183.9 1124.2 L190.3 1124.1 L196.6 1124.1 L203.0 1124.1 L209.3 1124.0 L215.6 1124.0 L222.0 1124.0 L228.3 1123.9 L234.7 1123.9 L241.0 1123.9 L247.4 1123.8 L253.7 1123.8 L260.0 1123.8 L266.4 1123.7 L272.7 1123.7 L279.1 1123.7 L285.4 1123.6 L291.7 1123.6 L298.1 1123.6 L304.4 1123.5 L310.8 1123.5 L317.1 1123.5 L323.4 1123.4 L329.8 1123.4 L336.1 1123.4 L342.5 1123.3 L348.8 1123.3 L355.1 1123.3 L361.5 1123.2 L367.8 1123.2 L374.2 1123.2 L380.5 1123.2 L386.8 1123.1 L393.2 1123.1 L399.5 1123.1 L405.9 1123.0 L412.2 1123.0 L418.5 1123.0 L424.9 1122.9 L431.2 1122.9 L437.6 1122.9 L443.9 1122.8 L450.3 1122.8 L456.6 1122.8 L462.9 1122.7 L469.3 1122.7 L475.6 1122.6 L482.0 1122.6 L488.3 1122.5 L494.6 1122.5 L501.0 1122.4 L507.3 1122.3 L513.7 1122.2 L520.0 1122.0 L521.1 1121.9 L522.3 1121.8 L523.5 1121.7 L524.7 1121.6 L525.9 1121.4 L527.2 1121.3 L528.5 1121.2 L529.9 1121.1 L531.2 1120.9 L532.6 1120.8 L534.0 1120.7 L535.5 1120.6 L537.0 1120.5 L538.6 1120.3 L540.2 1120.2 L541.8 1120.1 L543.4 1119.9 L545.0 1119.8 L546.6 1119.6 L548.2 1119.4 L549.8 1119.2 L551.4 1118.9 L553.0 1118.6 L554.7 1118.2 L556.3 1117.8 L557.9 1117.4 L559.5 1117.0 L561.0 1116.5 L562.5 1116.1 L563.9 1115.6 L565.3 1115.0 L566.6 1114.4 L568.0 1113.8 L569.3 1113.1 L570.6 1112.4 L571.8 1111.7 L573.0 1110.9 L574.2 1110.1 L575.3 1109.3 L576.4 1108.5 L577.5 1107.7 L578.5 1106.8 L579.5 1105.9 L580.4 1105.0 L581.4 1104.0 L582.3 1103.1 L583.2 1102.1 L584.0 1101.1 L584.9 1100.1 L585.7 1099.0 L586.5 1098.0 L587.3 1096.9 L588.0 1095.8 L588.8 1094.7 L589.5 1093.6 L590.2 1092.5 L590.8 1091.4 L591.5 1090.2 L592.1 1089.1 L592.6 1088.0 L593.2 1087.0 L593.7 1085.9 L594.2 1084.8 L594.6 1083.8 L595.1 1082.7 L595.5 1081.6 L596.0 1080.5 L596.4 1079.4 L596.9 1078.2 L597.3 1077.0 L597.8 1075.7 L598.3 1074.3 L598.8 1072.9 L599.3 1071.5 L599.8 1070.0 L600.3 1068.6 L600.8 1067.1 L601.2 1065.6 L601.6 1064.2 L602.0 1062.8 L602.4 1061.4 L602.7 1060.0 L603.0 1058.7 L603.4 1057.3 L603.7 1055.9 L604.0 1054.5 L604.3 1053.1 L604.5 1051.7 L604.8 1050.2 L605.1 1048.6 L605.3 1047.0 L605.5 1045.4 L605.7 1043.8 L606.0 1042.1 L606.2 1040.4 L606.4 1038.6 L606.6 1036.8 L606.8 1034.9 L607.1 1033.0 L607.4 1031.0 L607.7 1028.8 L608.1 1026.7 L608.5 1024.4 L608.9 1022.1 L609.3 1019.7 L609.7 1017.2 L610.1 1014.7 L610.6 1012.2 L611.0 1009.6 L611.4 1007.1 L611.9 1004.4 L612.4 1001.8 L612.9 999.0 L613.4 996.2 L613.9 993.4 L614.3 990.5 L614.8 987.5 L615.3 984.5 L615.7 981.4 L616.2 978.3 L616.6 975.0 L617.0 971.6 L617.5 968.1 L617.9 964.6 L618.3 961.0 L618.7 957.5 L619.1 953.9 L619.4 950.4 L619.7 946.9 L619.9 943.5 L620.2 940.1 L620.4 936.7 L620.7 933.3 L620.9 930.0 L621.1 926.6 L621.3 923.2 L621.4 919.9 L621.6 916.5 L621.7 913.2" fill="none" stroke="#0b5a94" stroke-width="3.80" stroke-linejoin="round"/>
<path d="M213.5 1351.3v-6.2 M213.5 912.9v6.2 M384.9 1351.3v-6.2 M384.9 912.9v6.2 M556.3 1351.3v-6.2 M556.3 912.9v6.2 M144.4 1000.7h6.2 M728.0 1000.7h-6.2 M144.4 1088.4h6.2 M728.0 1088.4h-6.2 M144.4 1176.1h6.2 M728.0 1176.1h-6.2 M144.4 1263.8h6.2 M728.0 1263.8h-6.2" fill="none" stroke="#262626" stroke-width="3.60" />
<rect x="144.40" y="912.90" width="583.60" height="438.40" fill="none" stroke="#262626" stroke-width="4.00" rx="0.00" />
<rect x="605.20" y="1239.30" width="190.00" height="116.00" fill="#ffffff" stroke="none" stroke-width="1.00" rx="0.00" fill-opacity="0.88"/>
<g transform="translate(114.69,927.80) scale(1.0000,1.0400)" fill="#000" >
<path transform="translate(0.00,0) scale(0.01758,-0.01688)" d="M763 0H583V1140C505 1068 380 992 223 930V1102C395 1180 560 1310 646 1467H763Z"/>
</g>
<text transform="translate(83.67,1015.50) scale(1.0000,1.0400)" font-size="36.00" fill="#000" style="font-family:'Liberation Sans',sans-serif" >0.5</text>
<text transform="translate(113.58,1103.20) scale(1.0000,1.0400)" font-size="36.00" fill="#000" style="font-family:'Liberation Sans',sans-serif" >0</text>
<text transform="translate(71.68,1190.90) scale(1.0000,1.0400)" font-size="36.00" fill="#000" style="font-family:'Liberation Sans',sans-serif" >-0.5</text>
<g transform="translate(102.70,1278.60) scale(1.0000,1.0400)" fill="#000" >
<text x="0.00" y="0" font-size="36.00" style="font-family:'Liberation Sans',sans-serif">-</text>
<path transform="translate(11.99,0) scale(0.01758,-0.01688)" d="M763 0H583V1140C505 1068 380 992 223 930V1102C395 1180 560 1310 646 1467H763Z"/>
</g>
<g transform="translate(71.68,1366.30) scale(1.0000,1.0400)" fill="#000" >
<text x="0.00" y="0" font-size="36.00" style="font-family:'Liberation Sans',sans-serif">-</text>
<path transform="translate(11.99,0) scale(0.01758,-0.01688)" d="M763 0H583V1140C505 1068 380 992 223 930V1102C395 1180 560 1310 646 1467H763Z"/>
<text x="32.01" y="0" font-size="36.00" style="font-family:'Liberation Sans',sans-serif">.5</text>
</g>
<text transform="translate(182.44,1398.70) scale(1.0000,1.0400)" font-size="36.00" fill="#000" style="font-family:'Liberation Sans',sans-serif" >-0.5</text>
<text transform="translate(374.89,1398.70) scale(1.0000,1.0400)" font-size="36.00" fill="#000" style="font-family:'Liberation Sans',sans-serif" >0</text>
<text transform="translate(531.33,1398.70) scale(1.0000,1.0400)" font-size="36.00" fill="#000" style="font-family:'Liberation Sans',sans-serif" >0.5</text>
<g transform="translate(719.03,1398.70) scale(1.0000,1.0400)" fill="#000" >
<path transform="translate(0.00,0) scale(0.01758,-0.01688)" d="M763 0H583V1140C505 1068 380 992 223 930V1102C395 1180 560 1310 646 1467H763Z"/>
</g>
<text transform="translate(334.32,1450.60) scale(1.0180,1.0400)" font-size="40.00" fill="#000" style="font-family:'Liberation Sans',sans-serif" >Voltage (V)</text>
<g transform="translate(51,0) rotate(-90)">
<rect x="-1191.00" y="-30.20" width="12.00" height="3.56" fill="#000" stroke="none" stroke-width="1.00" rx="0.00" />
<rect x="-1191.00" y="-3.56" width="12.00" height="3.56" fill="#000" stroke="none" stroke-width="1.00" rx="0.00" />
<rect x="-1187.27" y="-30.20" width="4.53" height="30.20" fill="#000" stroke="none" stroke-width="1.00" rx="0.00" />
<text transform="translate(-1164.54,0.00) scale(1.1811,1.0500)" font-size="41.50" fill="#000" style="font-family:'Liberation Sans',sans-serif" stroke="#000" stroke-width="0.50" stroke-linejoin="round">(µA)</text>
</g>
<text transform="translate(-2.68,801.50) scale(1.1965,1.0500)" font-size="34.00" fill="#000" style="font-family:'Liberation Sans',sans-serif;font-weight:bold" stroke="#000" stroke-width="0.90" stroke-linejoin="round">b</text>
<text transform="translate(166.74,1057.10) scale(1.1808,1.0500)" font-size="31.00" fill="#0b5a94" style="font-family:'Liberation Sans',sans-serif" stroke="#0b5a94" stroke-width="0.50" stroke-linejoin="round">Si only, λ = 1550 nm,</text>
<text transform="translate(231.12,1094.20) scale(1.1316,1.0500)" font-size="31.00" fill="#0b5a94" style="font-family:'Liberation Sans',sans-serif" stroke="#0b5a94" stroke-width="0.50" stroke-linejoin="round">Popt = 200µW</text>
<line x1="468.30" y1="1082.40" x2="524.00" y2="1100.30" stroke="#0b5a94" stroke-width="3.50" />
<polygon points="531.0,1102.6 514.8,1104.0 521.7,1099.6 518.7,1092.0" fill="#0b5a94"/>
<rect x="208.30" y="1147.90" width="9.00" height="2.64" fill="#6b6a00" stroke="none" stroke-width="1.00" rx="0.00" />
<rect x="208.30" y="1167.66" width="9.00" height="2.64" fill="#6b6a00" stroke="none" stroke-width="1.00" rx="0.00" />
<rect x="211.12" y="1147.90" width="3.36" height="22.40" fill="#6b6a00" stroke="none" stroke-width="1.00" rx="0.00" />
<text transform="translate(217.24,1170.30) scale(1.2392,1.0500)" font-size="31.00" fill="#6b6a00" style="font-family:'Liberation Sans',sans-serif" stroke="#6b6a00" stroke-width="0.50" stroke-linejoin="round">·V &gt; 0</text>
<text transform="translate(156.01,1209.20) scale(1.1355,1.0500)" font-size="31.00" fill="#6b6a00" style="font-family:'Liberation Sans',sans-serif" stroke="#6b6a00" stroke-width="0.50" stroke-linejoin="round">Conventional,</text>
<text transform="translate(149.69,1247.80) scale(1.1226,1.0500)" font-size="31.00" fill="#6b6a00" style="font-family:'Liberation Sans',sans-serif" stroke="#6b6a00" stroke-width="0.50" stroke-linejoin="round">reverse biased</text>
<text transform="translate(183.70,1285.40) scale(1.1665,1.0500)" font-size="31.00" fill="#6b6a00" style="font-family:'Liberation Sans',sans-serif" stroke="#6b6a00" stroke-width="0.50" stroke-linejoin="round">modulator</text>
<rect x="432.00" y="1154.40" width="9.00" height="2.64" fill="#000" stroke="none" stroke-width="1.00" rx="0.00" />
<rect x="432.00" y="1174.16" width="9.00" height="2.64" fill="#000" stroke="none" stroke-width="1.00" rx="0.00" />
<rect x="434.82" y="1154.40" width="3.36" height="22.40" fill="#000" stroke="none" stroke-width="1.00" rx="0.00" />
<text transform="translate(440.86,1176.80) scale(1.2608,1.0500)" font-size="31.00" fill="#000" style="font-family:'Liberation Sans',sans-serif" stroke="#000" stroke-width="0.50" stroke-linejoin="round">·V &lt; 0</text>
<text transform="translate(467.13,1215.40) scale(0.9696,1.0500)" font-size="31.00" fill="#000" style="font-family:'Liberation Sans',sans-serif" stroke="#000" stroke-width="0.50" stroke-linejoin="round">PV</text>
<text transform="translate(407.40,1253.60) scale(1.1665,1.0500)" font-size="31.00" fill="#000" style="font-family:'Liberation Sans',sans-serif" stroke="#000" stroke-width="0.50" stroke-linejoin="round">modulator</text>
<text transform="translate(611.72,1274.20) scale(1.1534,1.0500)" font-size="32.00" fill="#e2520f" style="font-family:'Liberation Sans',sans-serif" stroke="#e2520f" stroke-width="0.50" stroke-linejoin="round">Si + SiGe,</text>
<text transform="translate(613.14,1315.20) scale(1.2030,1.0500)" font-size="32.00" fill="#e2520f" style="font-family:'Liberation Sans',sans-serif" stroke="#e2520f" stroke-width="0.50" stroke-linejoin="round">λ = 1270 nm,</text>
<text transform="translate(611.54,1355.10) scale(1.1284,1.0500)" font-size="32.00" fill="#e2520f" style="font-family:'Liberation Sans',sans-serif" stroke="#e2520f" stroke-width="0.50" stroke-linejoin="round">Popt = 30µW</text>
<line x1="674.00" y1="1242.20" x2="636.00" y2="1191.50" stroke="#e2520f" stroke-width="3.50" />
<polygon points="631.2,1185.1 645.2,1193.3 637.0,1192.9 635.2,1200.9" fill="#e2520f"/>
<rect x="157.80" y="796.00" width="308.10" height="204.60" fill="#fff" stroke="#000" stroke-width="1.80" rx="0.00" stroke-dasharray="4.2 2.6"/>
<rect x="268.40" y="868.40" width="171.50" height="112.50" fill="#d9d9d9" stroke="#9a9a9a" stroke-width="0.80" rx="15.00" stroke-dasharray="2.5 1.5"/>
<path d="M212.7 901 V878.8 H340.4 V902 M212.7 943.5 V970.8 H340.4 V942.5 M289.5 878.8 V970.8" fill="none" stroke="#000" stroke-width="2.40" stroke-linejoin="miter"/>
<circle cx="214.20" cy="922.20" r="20.80" fill="#fff" stroke="#000" stroke-width="2.40"/>
<text transform="translate(186.64,906.00) scale(1.0000,1.0000)" font-size="19.00" fill="#000" style="font-family:'Liberation Sans',sans-serif;font-weight:bold" >+</text>
<text transform="translate(173.36,929.60) scale(1.0000,1.0000)" font-size="18.00" fill="#000" style="font-family:'Liberation Serif',serif;font-style:italic" stroke="#000" stroke-width="0.3">V</text>
<line x1="241.30" y1="950.00" x2="241.30" y2="899.00" stroke="#000" stroke-width="3.30" />
<polygon points="241.3,889.6 235.4,903.0 247.2,903.0" fill="#000"/>
<text transform="translate(251.07,934.00) scale(1.0000,1.0000)" font-size="18.00" fill="#000" style="font-family:'Liberation Serif',serif;font-style:italic" stroke="#000" stroke-width="0.3">I</text>
<polygon points="272.4,910.3 306.6,910.3 289.5,932.0" fill="#000"/>
<rect x="271.90" y="931.50" width="35.20" height="3.90" fill="#000" stroke="none" stroke-width="1.00" rx="0.00" />
<circle cx="338.90" cy="922.20" r="20.20" fill="#d9d9d9" stroke="#2f5597" stroke-width="2.40"/>
<line x1="338.90" y1="932.00" x2="338.90" y2="917.52" stroke="#2f5597" stroke-width="3.60" />
<polygon points="338.9,912.6 333.8,920.8 344.0,920.8" fill="#2f5597"/>
<text transform="translate(360.85,893.60) scale(0.7000,1.0000)" font-size="17.00" fill="#2f5597" style="font-family:'Liberation Serif',serif;font-style:italic" stroke="#2f5597" stroke-width="0.40">I</text>
<text transform="translate(367.35,896.83) scale(1.1000,1.0000)" font-size="13.60" fill="#2f5597" style="font-family:'Liberation Serif',serif;font-style:italic" stroke="#2f5597" stroke-width="0.40">pc</text>
<circle cx="388.60" cy="924.10" r="19.50" fill="none" stroke="#7f7f7f" stroke-width="9.90"/>
<rect x="412.70" y="859.80" width="14.00" height="1.82" fill="#7f7f7f" stroke="none" stroke-width="1.00" rx="0.00" />
<rect x="412.70" y="862.73" width="14.00" height="1.82" fill="#7f7f7f" stroke="none" stroke-width="1.00" rx="0.00" />
<rect x="412.70" y="865.67" width="14.00" height="1.82" fill="#7f7f7f" stroke="none" stroke-width="1.00" rx="0.00" />
<rect x="412.70" y="982.22" width="14.00" height="1.98" fill="#7f7f7f" stroke="none" stroke-width="1.00" rx="0.00" />
<rect x="412.70" y="985.42" width="14.00" height="1.98" fill="#7f7f7f" stroke="none" stroke-width="1.00" rx="0.00" />
<rect x="412.70" y="988.62" width="14.00" height="1.98" fill="#7f7f7f" stroke="none" stroke-width="1.00" rx="0.00" />
<path d="M412.7 868.3 L426.7 868.3 L426.7 873.0 C426.7 880.5 422.4 880.5 422.4 888.0 L422.4 956.7 C422.4 964.4 426.7 964.4 426.7 972.0 L426.7 981.3 L412.7 981.3 L412.7 972.0 C412.7 964.4 416.9 964.4 416.9 956.7 L416.9 888.0 C416.9 880.5 412.7 880.5 412.7 873.0 Z" fill="#7f7f7f" stroke="none" stroke-width="0.00" />
<path d="M420.6 914 C421.5 935 417 950 397 955.3" fill="none" stroke="#2f5597" stroke-width="2.70" stroke-linecap="round"/>
<path d="M401.4 949.2 L392.2 956.2 L403.2 960.8" fill="none" stroke="#2f5597" stroke-width="2.70" stroke-linecap="round" stroke-linejoin="round"/>
<rect x="405.30" y="809.40" width="28.30" height="30.40" fill="#fff" stroke="#000" stroke-width="1.60" rx="4.50" />
<path d="M419.5 823.0L429.5 823.0 M419.5 823.0L426.4 819.0 M419.5 823.0L424.1 814.9 M419.5 823.0L419.5 813.9 M419.5 823.0L415.2 815.6 M419.5 823.0L412.6 819.0 M419.5 823.0L409.8 823.0 M419.5 823.0L411.9 827.4 M419.5 823.0L414.9 830.9 M419.5 823.0L419.5 836.9 M419.5 823.0L423.0 829.1 M419.5 823.0L427.1 827.4" fill="none" stroke="#2f5597" stroke-width="1.00" stroke-linecap="butt"/>
<circle cx="419.50" cy="823.00" r="1.50" fill="#2f5597" stroke="none" stroke-width="1.00"/>
<line x1="419.50" y1="839.80" x2="419.50" y2="857.00" stroke="#2f5597" stroke-width="2.40" />
<polygon points="419.5,863.2 415.5,854.8 423.5,854.8" fill="#2f5597"/>
<text transform="translate(335.29,821.20) scale(0.9670,1.0000)" font-size="14.50" fill="#000" style="font-family:'Liberation Sans',sans-serif" >CW laser</text>
<text transform="translate(337.10,841.00) scale(1.1728,1.0000)" font-size="15.50" fill="#000" style="font-family:'Liberation Serif',serif;font-style:italic" stroke="#000" stroke-width="0.12">P = P</text>
<text transform="translate(380.63,844.80) scale(1.0698,1.0000)" font-size="11.50" fill="#000" style="font-family:'Liberation Serif',serif;font-style:italic" stroke="#000" stroke-width="0.12">opt</text>
<text transform="translate(823.61,801.90) scale(1.1999,1.0500)" font-size="34.00" fill="#000" style="font-family:'Liberation Sans',sans-serif;font-weight:bold" stroke="#000" stroke-width="0.90" stroke-linejoin="round">c</text>
<rect x="1060.00" y="898.30" width="268.80" height="153.70" fill="#d9d9d9" stroke="#8c8c8c" stroke-width="0.90" rx="22.00" stroke-dasharray="3.5 2"/>
<polygon points="997.5,826.7 986.3,845.4 1008.7,845.4" fill="#000"/>
<text transform="translate(1003.49,820.10) scale(0.7600,1.0000)" font-size="23.00" fill="#000" style="font-family:'Liberation Serif',serif;font-style:italic" stroke="#000" stroke-width="0.35">V</text>
<text transform="translate(1016.61,824.47) scale(1.0000,1.0000)" font-size="14.72" fill="#000" style="font-family:'Liberation Serif',serif;font-style:italic" stroke="#000" stroke-width="0.35">DD</text>
<path d="M998.1 845 V870.6 H967.4 M967.4 900.7 H998.1 M998.1 899.2 V947.4 M998.1 945.9 H967.4 M998.1 919.2 H1188 V946 M967.4 978.2 H990 M997.6 976.8 V1031 H1188 V996.5 M1114.7 919.2 V1031 M924.6 885.8 H956.9 M924.6 961.9 H956.9 M924.6 884.3 V963.4 M894.1 924.3 H924.6" fill="none" stroke="#000" stroke-width="3.10" stroke-linejoin="miter"/>
<path d="M956.9 868.4 V902 M956.9 945.9 V979.3" fill="none" stroke="#000" stroke-width="3.80" stroke-linecap="round"/>
<path d="M967.4 857.9 V912 M967.4 935.2 V988.9" fill="none" stroke="#000" stroke-width="3.80" stroke-linecap="round"/>
<polygon points="969.4,869.1 980.6,862.1 980.6,876.1" fill="#000"/>
<polygon points="997.2,978.2 985.9,971.2 985.9,985.2" fill="#000"/>
<text transform="translate(855.11,926.30) scale(0.7600,1.0000)" font-size="22.50" fill="#000" style="font-family:'Liberation Serif',serif;font-style:italic" stroke="#000" stroke-width="0.35">V</text>
<text transform="translate(867.13,930.80) scale(1.1800,1.0000)" font-size="16.20" fill="#000" style="font-family:'Liberation Serif',serif;font-style:italic" stroke="#000" stroke-width="0.35">in</text>
<polygon points="1093.9,957.4 1135.5,957.4 1114.7,984.1" fill="#000"/>
<rect x="1093.40" y="983.60" width="42.60" height="5.50" fill="#000" stroke="none" stroke-width="1.00" rx="0.00" />
<circle cx="1188.00" cy="971.80" r="24.50" fill="#d9d9d9" stroke="#2f5597" stroke-width="2.90"/>
<line x1="1188.00" y1="983.80" x2="1188.00" y2="964.84" stroke="#2f5597" stroke-width="3.90" />
<polygon points="1188.0,958.6 1181.6,969.0 1194.4,969.0" fill="#2f5597"/>
<text transform="translate(1201.36,936.80) scale(0.7000,1.0000)" font-size="21.00" fill="#2f5597" style="font-family:'Liberation Serif',serif;font-style:italic" stroke="#2f5597" stroke-width="0.50">I</text>
<text transform="translate(1209.51,940.79) scale(1.1000,1.0000)" font-size="16.80" fill="#2f5597" style="font-family:'Liberation Serif',serif;font-style:italic" stroke="#2f5597" stroke-width="0.50">pc</text>
<circle cx="1253.40" cy="974.60" r="28.80" fill="none" stroke="#7f7f7f" stroke-width="15.00"/>
<rect x="1287.30" y="881.30" width="19.80" height="3.16" fill="#7f7f7f" stroke="none" stroke-width="1.00" rx="0.00" />
<rect x="1287.30" y="886.40" width="19.80" height="3.16" fill="#7f7f7f" stroke="none" stroke-width="1.00" rx="0.00" />
<rect x="1287.30" y="891.50" width="19.80" height="3.16" fill="#7f7f7f" stroke="none" stroke-width="1.00" rx="0.00" />
<rect x="1287.30" y="1054.85" width="19.80" height="3.68" fill="#7f7f7f" stroke="none" stroke-width="1.00" rx="0.00" />
<rect x="1287.30" y="1060.79" width="19.80" height="3.68" fill="#7f7f7f" stroke="none" stroke-width="1.00" rx="0.00" />
<rect x="1287.30" y="1066.72" width="19.80" height="3.68" fill="#7f7f7f" stroke="none" stroke-width="1.00" rx="0.00" />
<path d="M1287.3 896.3 L1307.1 896.3 L1307.1 910.0 C1307.1 918.5 1301.3 918.5 1301.3 927.0 L1301.3 1030.0 C1301.3 1037.0 1307.1 1037.0 1307.1 1044.0 L1307.1 1052.9 L1287.3 1052.9 L1287.3 1044.0 C1287.3 1037.0 1293.1 1037.0 1293.1 1030.0 L1293.1 927.0 C1293.1 918.5 1287.3 918.5 1287.3 910.0 Z" fill="#7f7f7f" stroke="none" stroke-width="0.00" />
<path d="M1297.1 958.2 C1297.5 990 1291 1011 1257 1019.8" fill="none" stroke="#2f5597" stroke-width="3.40" stroke-linecap="round"/>
<path d="M1264.6 1011.6 L1252.6 1020.6 L1267.2 1023.8" fill="none" stroke="#2f5597" stroke-width="3.40" stroke-linecap="round" stroke-linejoin="round"/>
<rect x="1276.80" y="815.20" width="39.60" height="48.40" fill="#fff" stroke="#000" stroke-width="2.30" rx="6.50" />
<path d="M1296.2 835.1L1311.0 835.1 M1296.2 835.1L1306.5 829.2 M1296.2 835.1L1303.1 823.2 M1296.2 835.1L1296.2 821.6 M1296.2 835.1L1289.9 824.2 M1296.2 835.1L1285.9 829.2 M1296.2 835.1L1281.8 835.1 M1296.2 835.1L1284.9 841.6 M1296.2 835.1L1289.5 846.8 M1296.2 835.1L1296.2 855.7 M1296.2 835.1L1301.4 844.1 M1296.2 835.1L1307.5 841.6" fill="none" stroke="#2f5597" stroke-width="1.40" stroke-linecap="butt"/>
<circle cx="1296.20" cy="835.10" r="2.10" fill="#2f5597" stroke="none" stroke-width="1.00"/>
<line x1="1296.30" y1="864.70" x2="1296.30" y2="883.00" stroke="#2f5597" stroke-width="3.20" />
<polygon points="1296.3,891.4 1291.2,880.6 1301.4,880.6" fill="#2f5597"/>
<text transform="translate(1254.58,803.30) scale(0.9526,1.0000)" font-size="21.00" fill="#000" style="font-family:'Liberation Sans',sans-serif" >CW laser</text>
<path d="M1008.6 857.5 V881 C1008.6 899 1016 906.9 1034 906.9 H1079 C1094 906.9 1104.6 916 1105.4 941" fill="none" stroke="#ff0000" stroke-width="3.30" stroke-linecap="butt"/>
<path d="M1097.6 934.0 L1105.6 945.8 L1111.6 932.8" fill="none" stroke="#ff0000" stroke-width="3.30" stroke-linecap="round" stroke-linejoin="round"/>
<path d="M1091.6 950.4 V938 C1091.6 929.5 1088 925.8 1078 925.8 H1036 C1018 925.8 1009.6 940 1008.7 975 V1018" fill="none" stroke="#ff0000" stroke-width="3.30" stroke-linecap="butt"/>
<path d="M1001.7 1009.4 L1008.6 1022.4 L1015.4 1009.4" fill="none" stroke="#ff0000" stroke-width="3.30" stroke-linecap="round" stroke-linejoin="round"/>
<text transform="translate(867.30,1127.60) scale(1.1859,1.0500)" font-size="35.00" fill="#000" style="font-family:'Liberation Sans',sans-serif;font-weight:bold" stroke="#000" stroke-width="0.90" stroke-linejoin="round">Conventional modulator</text>
<text transform="translate(823.35,1223.80) scale(1.3249,1.0500)" font-size="34.00" fill="#000" style="font-family:'Liberation Sans',sans-serif;font-weight:bold" stroke="#000" stroke-width="0.90" stroke-linejoin="round">d</text>
<rect x="1008.90" y="1296.10" width="296.80" height="169.10" fill="#d9d9d9" stroke="#8c8c8c" stroke-width="0.90" rx="24.00" stroke-dasharray="3.5 2"/>
<path d="M932.4 1365.7 H966.3 M966.3 1367.6 V1319.6 H1150.3 V1350 M932.4 1401.4 H958 M966.3 1399.5 V1440.8 H1150.3 V1403 M1069.4 1319.6 V1440.8 M885 1383.6 H919.5" fill="none" stroke="#000" stroke-width="3.50" stroke-linejoin="miter"/>
<path d="M920.9 1365.7 V1401.4" fill="none" stroke="#000" stroke-width="4.20" stroke-linecap="round"/>
<path d="M932.4 1354.6 V1412.5" fill="none" stroke="#000" stroke-width="4.20" stroke-linecap="round"/>
<polygon points="965.6,1401.4 953.6,1393.8 953.6,1409.0" fill="#000"/>
<text transform="translate(846.83,1389.10) scale(0.7600,1.0000)" font-size="24.50" fill="#000" style="font-family:'Liberation Serif',serif;font-style:italic" stroke="#000" stroke-width="0.35">V</text>
<text transform="translate(859.83,1394.00) scale(1.1800,1.0000)" font-size="17.64" fill="#000" style="font-family:'Liberation Serif',serif;font-style:italic" stroke="#000" stroke-width="0.35">in</text>
<polygon points="1046.8,1360.8 1091.6,1360.8 1069.2,1390.1" fill="#000"/>
<rect x="1046.30" y="1389.60" width="45.80" height="6.20" fill="#000" stroke="none" stroke-width="1.00" rx="0.00" />
<circle cx="1149.90" cy="1376.30" r="26.60" fill="#d9d9d9" stroke="#2f5597" stroke-width="3.20"/>
<line x1="1149.90" y1="1389.80" x2="1149.90" y2="1369.66" stroke="#2f5597" stroke-width="4.50" />
<polygon points="1149.9,1362.7 1142.7,1374.3 1157.1,1374.3" fill="#2f5597"/>
<text transform="translate(1164.96,1337.90) scale(0.7000,1.0000)" font-size="23.20" fill="#2f5597" style="font-family:'Liberation Serif',serif;font-style:italic" stroke="#2f5597" stroke-width="0.50">I</text>
<text transform="translate(1173.80,1342.31) scale(1.1000,1.0000)" font-size="18.56" fill="#2f5597" style="font-family:'Liberation Serif',serif;font-style:italic" stroke="#2f5597" stroke-width="0.50">pc</text>
<circle cx="1221.00" cy="1378.20" r="31.20" fill="none" stroke="#7f7f7f" stroke-width="15.60"/>
<rect x="1258.20" y="1273.90" width="21.40" height="3.39" fill="#7f7f7f" stroke="none" stroke-width="1.00" rx="0.00" />
<rect x="1258.20" y="1279.37" width="21.40" height="3.39" fill="#7f7f7f" stroke="none" stroke-width="1.00" rx="0.00" />
<rect x="1258.20" y="1284.83" width="21.40" height="3.39" fill="#7f7f7f" stroke="none" stroke-width="1.00" rx="0.00" />
<rect x="1258.20" y="1464.05" width="21.40" height="3.35" fill="#7f7f7f" stroke="none" stroke-width="1.00" rx="0.00" />
<rect x="1258.20" y="1469.45" width="21.40" height="3.35" fill="#7f7f7f" stroke="none" stroke-width="1.00" rx="0.00" />
<rect x="1258.20" y="1474.85" width="21.40" height="3.35" fill="#7f7f7f" stroke="none" stroke-width="1.00" rx="0.00" />
<path d="M1258.2 1290.0 L1279.6 1290.0 L1279.6 1305.5 C1279.6 1314.2 1273.5 1314.2 1273.5 1323.0 L1273.5 1428.5 C1273.5 1436.5 1279.6 1436.5 1279.6 1444.5 L1279.6 1462.3 L1258.2 1462.3 L1258.2 1444.5 C1258.2 1436.5 1264.3 1436.5 1264.3 1428.5 L1264.3 1323.0 C1264.3 1314.2 1258.2 1314.2 1258.2 1305.5 Z" fill="#7f7f7f" stroke="none" stroke-width="0.00" />
<path d="M1270.4 1362.2 C1270.8 1397 1262 1420 1226 1428.9" fill="none" stroke="#2f5597" stroke-width="3.60" stroke-linecap="round"/>
<path d="M1234.8 1420.2 L1221.8 1429.7 L1237.2 1433.9" fill="none" stroke="#2f5597" stroke-width="3.60" stroke-linecap="round" stroke-linejoin="round"/>
<rect x="1247.70" y="1204.40" width="43.30" height="53.70" fill="#fff" stroke="#000" stroke-width="2.50" rx="7.50" />
<path d="M1269.3 1225.7L1287.1 1225.7 M1269.3 1225.7L1281.6 1218.6 M1269.3 1225.7L1277.6 1211.4 M1269.3 1225.7L1269.3 1209.5 M1269.3 1225.7L1261.7 1212.6 M1269.3 1225.7L1257.0 1218.6 M1269.3 1225.7L1252.0 1225.7 M1269.3 1225.7L1255.7 1233.5 M1269.3 1225.7L1261.2 1239.7 M1269.3 1225.7L1269.3 1250.4 M1269.3 1225.7L1275.5 1236.5 M1269.3 1225.7L1282.9 1233.5" fill="none" stroke="#2f5597" stroke-width="1.60" stroke-linecap="butt"/>
<circle cx="1269.30" cy="1225.70" r="2.40" fill="#2f5597" stroke="none" stroke-width="1.00"/>
<line x1="1269.10" y1="1259.30" x2="1269.10" y2="1279.00" stroke="#2f5597" stroke-width="3.50" />
<polygon points="1269.1,1287.4 1263.7,1276.6 1274.5,1276.6" fill="#2f5597"/>
<text transform="translate(1223.07,1191.40) scale(0.9869,1.0000)" font-size="22.50" fill="#000" style="font-family:'Liberation Sans',sans-serif" >CW laser</text>
<path d="M1131.5 1328.6 C1105 1326.6 1085 1326.6 1067.8 1327 C1050 1327.4 1038 1328.4 1025.3 1330.2 C1012 1332.2 1006 1333.8 1000.8 1336.7 C992 1341.5 986 1350 985.4 1368" fill="none" stroke="#2f5597" stroke-width="3.60" stroke-linecap="butt"/>
<path d="M977.6 1357.2 L985.3 1370.2 L992.8 1357.2" fill="none" stroke="#2f5597" stroke-width="3.60" stroke-linecap="round" stroke-linejoin="round"/>
<path d="M1128 1328.8 C1116 1328.8 1111 1329.2 1107 1330.2 C1100.5 1332 1097.6 1338 1097.2 1349 L1096.5 1369" fill="none" stroke="#2f5597" stroke-width="3.60" stroke-linecap="butt"/>
<path d="M1089.0 1358.0 L1096.4 1371.0 L1103.8 1358.0" fill="none" stroke="#2f5597" stroke-width="3.60" stroke-linecap="round" stroke-linejoin="round"/>
<text transform="translate(873.00,1538.30) scale(1.1972,1.0500)" font-size="35.00" fill="#000" style="font-family:'Liberation Sans',sans-serif;font-weight:bold" stroke="#000" stroke-width="0.90" stroke-linejoin="round">Photovoltaic modulator</text>
</svg>
</body></html>
